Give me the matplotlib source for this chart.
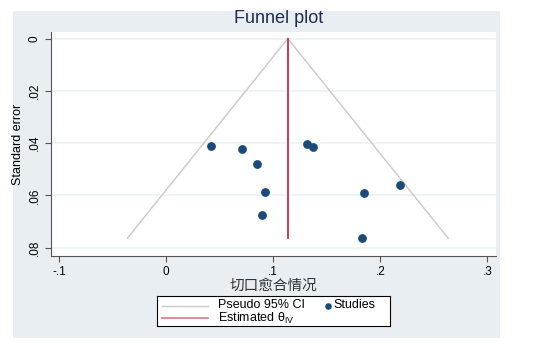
import numpy as np
import matplotlib
matplotlib.use("Agg")
import matplotlib.pyplot as plt
from matplotlib.patches import Rectangle

plt.rcParams['font.family'] = ['Liberation Sans', 'Noto Sans CJK SC', 'DejaVu Sans']

# study effects and standard errors
effect = [0.0417, 0.0704, 0.0853, 0.0919, 0.0894, 0.1311, 0.1374, 0.1847, 0.2183, 0.1825]
se = [0.0411, 0.0424, 0.0481, 0.0587, 0.0674, 0.0403, 0.0414, 0.0590, 0.0559, 0.0764]
theta = 0.1136
xticks = [-0.1, 0, 0.1, 0.2, 0.3]
xticklabels = ['-.1', '0', '.1', '.2', '.3']
yticks = [0, 0.02, 0.04, 0.06, 0.08]
yticklabels = ['0', '.02', '.04', '.06', '.08']

bg = '#e8eef1'
ci_col = '#c8c8c8'
red = '#c8173a'
navy = '#1a4a7a'

fig = plt.figure(figsize=(5.51, 3.45), dpi=100)
fig.patch.set_facecolor('white')
fig.patches.append(Rectangle((13 / 551, 7 / 345), 487 / 551, 327 / 345,
                             transform=fig.transFigure, facecolor=bg,
                             edgecolor='none', zorder=-10))

ax = fig.add_axes([51 / 551, 89 / 345, 445 / 551, 224 / 345])
ax.set_facecolor('white')

semax = max(se)
s = np.array([0, semax])
ax.plot(theta - 1.96 * s, s, color=ci_col, lw=1)
ax.plot(theta + 1.96 * s, s, color=ci_col, lw=1)
ax.plot([theta, theta], [0, semax], color=red, lw=1.2)
ax.scatter(effect, se, s=28, color=navy, zorder=3)

ax.set_xlim(-0.1075, 0.308)
ax.set_ylim(0.0832, -0.0025)
ax.set_xticks(xticks)
ax.set_xticklabels(xticklabels, fontsize=8.5)
ax.set_yticks(yticks)
ax.set_yticklabels(yticklabels, fontsize=8.5, rotation=90, va='center')
for t in yticks:
    ax.axhline(t, color='#eaf2f3', lw=1.2, zorder=0)
for side in ['top', 'right']:
    ax.spines[side].set_visible(False)
for side in ['left', 'bottom']:
    ax.spines[side].set_color('#555555')
    ax.spines[side].set_linewidth(0.8)
ax.tick_params(direction='out', length=4, color='#555555', width=0.8)
ax.set_ylabel('Standard error', fontsize=9, labelpad=3)
ax.set_xlabel('切口愈合情况', fontsize=10.5, labelpad=0, color='#333333')
fig.text(0.506, 0.947, 'Funnel plot', ha='center', va='center', fontsize=13, color='#1e2d50')

# legend box drawn by hand (Stata style)
lg = fig.add_axes([157 / 551, 19 / 345, 233 / 551, 30 / 345])
lg.set_xlim(0, 233)
lg.set_ylim(30, 0)
lg.set_xticks([])
lg.set_yticks([])
for sp in lg.spines.values():
    sp.set_linewidth(0.8)
    sp.set_color('black')
lg.plot([5, 51], [9.5, 9.5], color=ci_col, lw=1)
lg.text(61, 9.5, 'Pseudo 95% CI', fontsize=9, va='center')
lg.plot([5, 51], [22, 22], color=red, lw=1.2, alpha=0.6)
lg.text(61, 22, 'Estimated θ$_{\\mathregular{IV}}$', fontsize=9, va='center')
lg.scatter([171], [9.5], s=14, color=navy)
lg.text(176, 9.5, 'Studies', fontsize=9, va='center')

fig.savefig('out.png', dpi=100)
